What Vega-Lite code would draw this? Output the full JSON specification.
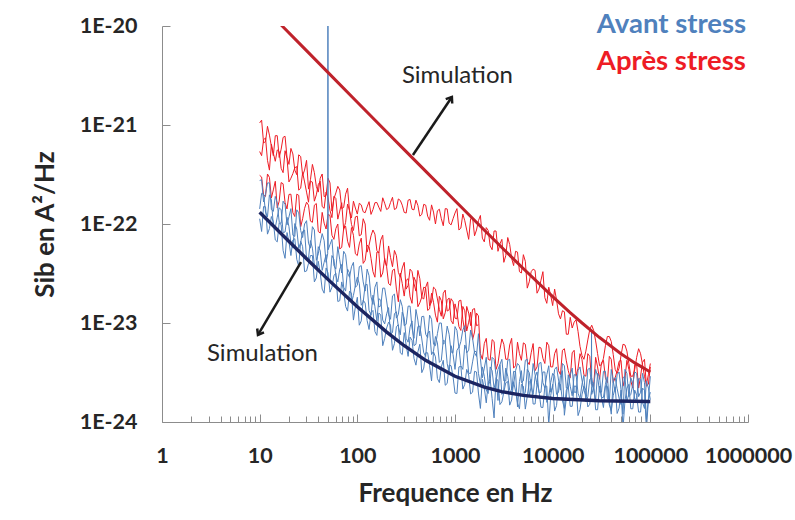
{
  "$schema": "https://vega.github.io/schema/vega-lite/v6.json",
  "width": 586,
  "height": 396,
  "autosize": {"type": "none"},
  "padding": {"left": 162, "top": 26, "right": 47, "bottom": 98},
  "background": "white",
  "config": {"view": {"stroke": null}, "font": "Lato"},
  "datasets": {
    "spec": [
      {"f":10,"ra":1.05e-21,"rb":3.1e-22,"rc":5.4e-22,"ba":2.75e-22,"bb":1.13e-22,"bc":1.42e-22},
      {"f":10.471,"ra":1.12e-21,"rb":2.98e-22,"rc":4.9e-22,"ba":2.8e-22,"bb":8.4e-23,"bc":2.04e-22},
      {"f":10.965,"ra":6.6e-22,"rb":1.96e-22,"rc":7.1e-22,"ba":1.67e-22,"bb":1.5e-22,"bc":2.0e-22},
      {"f":11.482,"ra":6.8e-22,"rb":1.9e-22,"rc":7.4e-22,"ba":2.0e-22,"bb":1.49e-22,"bc":1.32e-22},
      {"f":12.023,"ra":9.7e-22,"rb":3.2e-22,"rc":4.4e-22,"ba":2.6e-22,"bb":7.9e-23,"bc":1.18e-22},
      {"f":12.589,"ra":7.9e-22,"rb":2.96e-22,"rc":3.5e-22,"ba":2.6e-22,"bb":9.0e-23,"bc":1.97e-22},
      {"f":13.183,"ra":6.1e-22,"rb":1.83e-22,"rc":6.4e-22,"ba":1.4e-22,"bb":1.19e-22,"bc":1.75e-22},
      {"f":13.804,"ra":4.9e-22,"rb":2.21e-22,"rc":5.2e-22,"ba":1.34e-22,"bb":1.05e-22,"bc":9.7e-23},
      {"f":14.454,"ra":7.8e-22,"rb":2.7e-22,"rc":4.3e-22,"ba":1.9e-22,"bb":6.9e-23,"bc":9.2e-23},
      {"f":15.136,"ra":7.8e-22,"rb":1.45e-22,"rc":5.6e-22,"ba":1.63e-22,"bb":6.6e-23,"bc":1.17e-22},
      {"f":15.849,"ra":4.7e-22,"rb":1.7e-22,"rc":5.4e-22,"ba":1.05e-22,"bb":1.03e-22,"bc":1.46e-22},
      {"f":16.596,"ra":5.7e-22,"rb":2.62e-22,"rc":3.65e-22,"ba":1.01e-22,"bb":9.8e-23,"bc":1.39e-22},
      {"f":17.378,"ra":7.5e-22,"rb":2.55e-22,"rc":3.3e-22,"ba":1.7e-22,"bb":5.4e-23,"bc":8.2e-23},
      {"f":18.197,"ra":7.7e-22,"rb":1.65e-22,"rc":5.5e-22,"ba":1.58e-22,"bb":4.5e-23,"bc":8.3e-23},
      {"f":19.055,"ra":4.7e-22,"rb":1.42e-22,"rc":4.6e-22,"ba":9.8e-23,"bb":8.2e-23,"bc":1.17e-22},
      {"f":19.953,"ra":4.0e-22,"rb":1.99e-22,"rc":2.66e-22,"ba":1.18e-22,"bb":6.6e-23,"bc":9.4e-23},
      {"f":20.893,"ra":5.8e-22,"rb":2.0e-22,"rc":2.9e-22,"ba":1.43e-22,"bb":4.8e-23,"bc":6.4e-23},
      {"f":21.878,"ra":5.1e-22,"rb":1.3e-22,"rc":3.23e-22,"ba":7.7e-23,"bb":6.9e-23,"bc":5.7e-23},
      {"f":22.909,"ra":3.5e-22,"rb":1.19e-22,"rc":3.7e-22,"ba":7.5e-23,"bb":7.1e-23,"bc":1.01e-22},
      {"f":23.988,"ra":3.15e-22,"rb":2.0e-22,"rc":3.8e-22,"ba":1.39e-22,"bb":4.4e-23,"bc":8.9e-23},
      {"f":25.119,"ra":5.0e-22,"rb":1.95e-22,"rc":2.2e-22,"ba":1.3e-22,"bb":3.75e-23,"bc":5.7e-23},
      {"f":26.303,"ra":4.8e-22,"rb":9.4e-23,"rc":2.3e-22,"ba":8.6e-23,"bb":6.7e-23,"bc":6.5e-23},
      {"f":27.542,"ra":3.1e-22,"rb":1.13e-22,"rc":3.3e-22,"ba":7.3e-23,"bb":5.9e-23,"bc":8.4e-23},
      {"f":28.84,"ra":3.5e-22,"rb":1.44e-22,"rc":2.66e-22,"ba":1.0e-22,"bb":3.3e-23,"bc":8.7e-23},
      {"f":30.2,"ra":4.4e-22,"rb":1.66e-22,"rc":2.1e-22,"ba":1.08e-22,"bb":3.35e-23,"bc":4.4e-23},
      {"f":31.623,"ra":2.25e-22,"rb":1.55e-22,"rc":1.66e-22,"ba":6.4e-23,"bb":4.0e-23,"bc":4.5e-23},
      {"f":33.113,"ra":2.8e-22,"rb":1.07e-22,"rc":2.7e-22,"ba":5.7e-23,"bb":4.8e-23,"bc":6.8e-23},
      {"f":34.674,"ra":4.0e-22,"rb":1.04e-22,"rc":2.65e-22,"ba":9.4e-23,"bb":4.8e-23,"bc":5.7e-23},
      {"f":36.308,"ra":3.3e-22,"rb":1.55e-22,"rc":1.7e-22,"ba":8.7e-23,"bb":2.6e-23,"bc":3.9e-23},
      {"f":38.019,"ra":2.4e-22,"rb":1.61e-22,"rc":1.97e-22,"ba":4.3e-23,"bb":2.85e-23,"bc":3.5e-23},
      {"f":39.811,"ra":2.1e-22,"rb":8.4e-23,"rc":2.5e-22,"ba":5.0e-23,"bb":4.2e-23,"bc":5.9e-23},
      {"f":41.687,"ra":2.9e-22,"rb":8.1e-23,"rc":2.7e-22,"ba":6.4e-23,"bb":3.2e-23,"bc":5.4e-23},
      {"f":43.652,"ra":3.2e-22,"rb":1.31e-22,"rc":1.5e-22,"ba":8.0e-23,"bb":2.2e-23,"bc":3.4e-23},
      {"f":45.709,"ra":1.89e-22,"rb":1.02e-22,"rc":1.44e-22,"ba":6.8e-23,"bb":2.0e-23,"bc":4.1e-23},
      {"f":47.863,"ra":1.95e-22,"rb":8.9e-23,"rc":2.1e-22,"ba":4.1e-23,"bb":3.6e-23,"bc":4.9e-23},
      {"f":49.7,"ba":5.0e-23},
      {"f":50,"ba":1.3e-20},
      {"f":50.119,"ra":2.9e-22,"rb":1.25e-22,"rc":1.84e-22,"bb":3.2e-23,"bc":2.65e-23},
      {"f":50.3,"ba":5.5e-23},
      {"f":52.481,"ra":2.6e-22,"rb":1.22e-22,"rc":1.37e-22,"ba":6.2e-23,"bb":2.05e-23,"bc":2.7e-23},
      {"f":54.954,"ra":1.35e-22,"rb":7.7e-23,"rc":1.16e-22,"ba":7.0e-23,"bb":2.3e-23,"bc":4.8e-23},
      {"f":57.544,"ra":1.8e-22,"rb":7.0e-23,"rc":1.9e-22,"ba":3.8e-23,"bb":3.0e-23,"bc":4.4e-23},
      {"f":60.256,"ra":2.06e-22,"rb":9.0e-23,"rc":1.81e-22,"ba":3.5e-23,"bb":3.2e-23,"bc":3.0e-23},
      {"f":63.096,"ra":2.4e-22,"rb":1.0e-22,"rc":1.12e-22,"ba":5.9e-23,"bb":1.65e-23,"bc":2.6e-23},
      {"f":66.069,"ra":2.2e-22,"rb":5.6e-23,"rc":1.35e-22,"ba":4.35e-23,"bb":1.68e-23,"bc":3.5e-23},
      {"f":69.183,"ra":1.43e-22,"rb":5.8e-23,"rc":1.64e-22,"ba":3.2e-23,"bb":2.6e-23,"bc":3.9e-23},
      {"f":72.444,"ra":1.47e-22,"rb":9.0e-23,"rc":8.8e-23,"ba":5.3e-23,"bb":2.1e-23,"bc":2.3e-23},
      {"f":75.858,"ra":2.0e-22,"rb":9.5e-23,"rc":1.04e-22,"ba":4.9e-23,"bb":1.47e-23,"bc":2.1e-23},
      {"f":79.433,"ra":2.3e-22,"rb":6.7e-23,"rc":1.59e-22,"ba":3.2e-23,"bb":1.32e-23,"bc":3.5e-23},
      {"f":83.176,"ra":1.35e-22,"rb":5.8e-23,"rc":1.37e-22,"ba":2.9e-23,"bb":2.1e-23,"bc":3.2e-23},
      {"f":87.096,"ra":1.15e-22,"rb":9.2e-23,"rc":9.9e-23,"ba":3.7e-23,"bb":2.0e-23,"bc":1.6e-23},
      {"f":91.201,"ra":1.7e-22,"rb":7.7e-23,"rc":8.6e-23,"ba":4.1e-23,"bb":1.07e-23,"bc":1.9e-23},
      {"f":95.499,"ra":1.45e-22,"rb":5.0e-23,"rc":1.18e-22,"ba":2.3e-23,"bb":1.46e-23,"bc":2.4e-23},
      {"f":100,"ra":1.26e-22,"rb":4.8e-23,"rc":1.2e-22,"ba":2.4e-23,"bb":1.82e-23,"bc":2.9e-23},
      {"f":104.71,"ra":1.62e-22,"rb":6.3e-23,"rc":7.6e-23,"ba":3.7e-23,"bb":9.5e-24,"bc":2.5e-23},
      {"f":109.65,"ra":1.56e-22,"rb":7.2e-23,"rc":7.8e-23,"ba":3.8e-23,"bb":1.05e-23,"bc":1.51e-23},
      {"f":114.82,"ra":1.33e-22,"rb":4.0e-23,"rc":1.13e-22,"ba":2.6e-23,"bb":1.7e-23,"bc":1.63e-23},
      {"f":120.23,"ra":1.3e-22,"rb":4.3e-23,"rc":1.0e-22,"ba":2.1e-23,"bb":1.59e-23,"bc":2.4e-23},
      {"f":125.89,"ra":1.49e-22,"rb":6.1e-23,"rc":5.2e-23,"ba":3.5e-23,"bb":1.06e-23,"bc":2.46e-23},
      {"f":131.83,"ra":1.68e-22,"rb":5.9e-23,"rc":6.1e-23,"ba":3.0e-23,"bb":8.6e-24,"bc":1.34e-23},
      {"f":138.04,"ra":1.25e-22,"rb":4.5e-23,"rc":7.6e-23,"ba":1.84e-23,"bb":1.27e-23,"bc":1.2e-23},
      {"f":144.54,"ra":1.4e-22,"rb":3.3e-23,"rc":8.7e-23,"ba":1.54e-23,"bb":1.34e-23,"bc":1.91e-23},
      {"f":151.36,"ra":1.64e-22,"rb":2.9e-23,"rc":7.9e-23,"ba":2.3e-23,"bb":8.2e-24,"bc":1.46e-23},
      {"f":158.49,"ra":1.65e-22,"rb":5.2e-23,"rc":5.4e-23,"ba":2.6e-23,"bb":7.5e-24,"bc":1.05e-23},
      {"f":165.96,"ra":1.48e-22,"rb":5.2e-23,"rc":5.1e-23,"ba":1.45e-23,"bb":1.26e-23,"bc":1.76e-23},
      {"f":173.78,"ra":1.34e-22,"rb":2.9e-23,"rc":6.9e-23,"ba":1.49e-23,"bb":1.21e-23,"bc":1.7e-23},
      {"f":181.97,"ra":1.84e-22,"rb":3.2e-23,"rc":7.7e-23,"ba":2.25e-23,"bb":5.9e-24,"bc":1.07e-23},
      {"f":190.55,"ra":1.62e-22,"rb":4.5e-23,"rc":4.2e-23,"ba":2.25e-23,"bb":7.0e-24,"bc":9.8e-24},
      {"f":199.53,"ra":1.4e-22,"rb":3.7e-23,"rc":3.75e-23,"ba":1.67e-23,"bb":8.9e-24,"bc":1.24e-23},
      {"f":208.93,"ra":1.44e-22,"rb":2.5e-23,"rc":6.0e-23,"ba":1.21e-23,"bb":1.02e-23,"bc":1.43e-23},
      {"f":218.78,"ra":1.65e-22,"rb":2.4e-23,"rc":4.6e-23,"ba":1.09e-23,"bb":9.5e-24,"bc":7.7e-24},
      {"f":229.09,"ra":1.86e-22,"rb":3.4e-23,"rc":3.7e-23,"ba":1.88e-23,"bb":5.3e-24,"bc":8.0e-24},
      {"f":239.88,"ra":1.4e-22,"rb":3.5e-23,"rc":5.4e-23,"ba":1.96e-23,"bb":6.2e-24,"bc":1.24e-23},
      {"f":251.19,"ra":1.44e-22,"rb":2.2e-23,"rc":4.8e-23,"ba":1.12e-23,"bb":9.2e-24,"bc":1.3e-23},
      {"f":263.03,"ra":1.79e-22,"rb":1.64e-23,"rc":3.25e-23,"ba":1.22e-23,"bb":9.6e-24,"bc":9.2e-24},
      {"f":275.42,"ra":1.73e-22,"rb":3.2e-23,"rc":2.9e-23,"ba":1.72e-23,"bb":5.0e-24,"bc":7.6e-24},
      {"f":288.4,"ra":1.55e-22,"rb":2.5e-23,"rc":3.6e-23,"ba":1.47e-23,"bb":4.8e-24,"bc":1.29e-23},
      {"f":302,"ra":1.31e-22,"rb":1.87e-23,"rc":4.1e-23,"ba":9.4e-24,"bb":8.0e-24,"bc":1.12e-23},
      {"f":316.23,"ra":1.29e-22,"rb":2.7e-23,"rc":2.2e-23,"ba":9.7e-24,"bb":6.0e-24,"bc":7.0e-24},
      {"f":331.13,"ra":1.74e-22,"rb":2.8e-23,"rc":2.4e-23,"ba":1.48e-23,"bb":4.6e-24,"bc":6.4e-24},
      {"f":346.74,"ra":1.77e-22,"rb":1.84e-23,"rc":3.5e-23,"ba":1.48e-23,"bb":7.2e-24,"bc":9.1e-24},
      {"f":363.08,"ra":1.41e-22,"rb":1.58e-23,"rc":3.3e-23,"ba":8.9e-24,"bb":6.7e-24,"bc":1.05e-23},
      {"f":380.19,"ra":1.39e-22,"rb":2.9e-23,"rc":2.5e-23,"ba":7.0e-24,"bb":4.4e-24,"bc":5.9e-24},
      {"f":398.11,"ra":1.74e-22,"rb":2.6e-23,"rc":2.1e-23,"ba":1.37e-23,"bb":3.75e-24,"bc":6.1e-24},
      {"f":416.87,"ra":1.54e-22,"rb":1.46e-23,"rc":3.4e-23,"ba":1.07e-23,"bb":5.1e-24,"bc":9.2e-24},
      {"f":436.52,"ra":1.2e-22,"rb":1.6e-23,"rc":2.8e-23,"ba":7.4e-24,"bb":6.1e-24,"bc":9.3e-24},
      {"f":457.09,"ra":1.25e-22,"rb":1.83e-23,"rc":1.81e-23,"ba":1.16e-23,"bb":3.15e-24,"bc":6.9e-24},
      {"f":478.63,"ra":1.58e-22,"rb":2.3e-23,"rc":1.75e-23,"ba":1.17e-23,"bb":3.5e-24,"bc":5.0e-24},
      {"f":501.19,"ra":1.55e-22,"rb":2.25e-23,"rc":2.3e-23,"ba":7.7e-24,"bb":5.0e-24,"bc":4.6e-24},
      {"f":524.81,"ra":1.2e-22,"rb":1.34e-23,"rc":2.6e-23,"ba":7.1e-24,"bb":5.0e-24,"bc":7.9e-24},
      {"f":549.54,"ra":1.09e-22,"rb":1.39e-23,"rc":1.49e-23,"ba":1.2e-23,"bb":3.7e-24,"bc":8.3e-24},
      {"f":575.44,"ra":1.56e-22,"rb":2.0e-23,"rc":1.63e-23,"ba":1.09e-23,"bb":2.6e-24,"bc":4.8e-24},
      {"f":602.56,"ra":1.32e-22,"rb":1.62e-23,"rc":2.3e-23,"ba":6.1e-24,"bb":5.1e-24,"bc":5.2e-24},
      {"f":630.96,"ra":1.0e-22,"rb":1.2e-23,"rc":2.2e-23,"ba":5.9e-24,"bb":4.55e-24,"bc":7.3e-24},
      {"f":660.69,"ra":1.36e-22,"rb":1.02e-23,"rc":1.75e-23,"ba":7.8e-24,"bb":2.75e-24,"bc":6.3e-24},
      {"f":691.83,"ra":1.41e-22,"rb":1.86e-23,"rc":1.37e-23,"ba":1.0e-23,"bb":2.5e-24,"bc":4.0e-24},
      {"f":724.44,"ra":1.13e-22,"rb":1.68e-23,"rc":1.17e-23,"ba":1.0e-23,"bb":3.6e-24,"bc":4.2e-24},
      {"f":758.58,"ra":9.6e-23,"rb":1.1e-23,"rc":2.0e-23,"ba":6.1e-24,"bb":4.2e-24,"bc":6.7e-24},
      {"f":794.33,"ra":1.43e-22,"rb":1.27e-23,"rc":2.15e-23,"ba":6.4e-24,"bb":2.35e-24,"bc":6.5e-24},
      {"f":831.76,"ra":1.42e-22,"rb":1.7e-23,"rc":1.32e-23,"ba":9.3e-24,"bb":2.45e-24,"bc":3.9e-24},
      {"f":870.96,"ra":1.02e-22,"rb":1.79e-23,"rc":1.36e-23,"ba":7.7e-24,"bb":3.75e-24,"bc":3.1e-24},
      {"f":912.01,"ra":9.8e-23,"rb":1.06e-23,"rc":1.76e-23,"ba":5.1e-24,"bb":3.7e-24,"bc":5.9e-24},
      {"f":954.99,"ra":1.13e-22,"rb":9.8e-24,"rc":1.64e-23,"ba":5.0e-24,"bb":2.86e-24,"bc":4.8e-24},
      {"f":1000,"ra":1.29e-22,"rb":1.56e-23,"rc":1.12e-23,"ba":9.2e-24,"bb":1.96e-24,"bc":3.4e-24},
      {"f":1047.1,"ra":1.43e-22,"rb":1.29e-23,"rc":1.1e-23,"ba":8.4e-24,"bb":1.94e-24,"bc":5.3e-24},
      {"f":1096.5,"ra":8.7e-23,"rb":9.2e-24,"rc":1.67e-23,"ba":5.6e-24,"bb":3.6e-24,"bc":5.7e-24},
      {"f":1148.2,"ra":9.1e-23,"rb":8.4e-24,"rc":1.7e-23,"ba":6.5e-24,"bb":3.65e-24,"bc":3.7e-24},
      {"f":1202.3,"ra":1.26e-22,"rb":1.47e-23,"rc":1.09e-23,"ba":8.5e-24,"bb":2.15e-24,"bc":3.4e-24},
      {"f":1258.9,"ra":1.08e-22,"rb":1.33e-23,"rc":8.1e-24,"ba":9.4e-24,"bb":2.4e-24,"bc":6.0e-24},
      {"f":1318.3,"ra":8.7e-23,"rb":8.3e-24,"rc":1.47e-23,"ba":5.0e-24,"bb":3.4e-24,"bc":5.25e-24},
      {"f":1380.4,"ra":7.0e-23,"rb":1.02e-23,"rc":1.26e-23,"ba":5.3e-24,"bb":2.98e-24,"bc":3.1e-24},
      {"f":1445.4,"ra":1.13e-22,"rb":1.29e-23,"rc":9.4e-24,"ba":8.5e-24,"bb":1.92e-24,"bc":3.1e-24},
      {"f":1513.6,"ra":1.16e-22,"rb":6.8e-24,"rc":1.37e-23,"ba":7.0e-24,"bb":2.0e-24,"bc":4.05e-24},
      {"f":1584.9,"ra":7.6e-23,"rb":8.1e-24,"rc":1.4e-23,"ba":5.0e-24,"bb":3.25e-24,"bc":5.2e-24},
      {"f":1659.6,"ra":8.7e-23,"rb":1.26e-23,"rc":9.4e-24,"ba":4.6e-24,"bb":3.2e-24,"bc":5.1e-24},
      {"f":1737.8,"ra":1.08e-22,"rb":1.18e-23,"rc":9.6e-24,"ba":7.8e-24,"bb":1.96e-24,"bc":3.1e-24},
      {"f":1819.7,"ra":1.22e-22,"rb":4.9e-24,"ba":4.4e-24,"bb":1.37e-24,"bc":2.4e-24},
      {"f":1905.5,"ra":7.2e-23,"rb":4.3e-24,"ba":2.8e-24,"bb":2.7e-24,"bc":3.6e-24},
      {"f":1995.3,"ra":6.6e-23,"rb":6.2e-24,"ba":3.5e-24,"bb":2.2e-24,"bc":2.9e-24},
      {"f":2089.3,"ra":9.2e-23,"rb":7.0e-24,"ba":4.5e-24,"bb":1.56e-24,"bc":2.1e-24},
      {"f":2187.8,"ra":8.6e-23,"rb":4.3e-24,"ba":2.4e-24,"bb":2.5e-24,"bc":1.94e-24},
      {"f":2290.9,"ra":6.0e-23,"rb":4.2e-24,"ba":2.55e-24,"bb":2.7e-24,"bc":3.6e-24},
      {"f":2398.8,"ra":5.5e-23,"rb":6.8e-24,"ba":4.5e-24,"bb":1.72e-24,"bc":3.3e-24},
      {"f":2511.9,"ra":8.5e-23,"rb":6.5e-24,"ba":4.3e-24,"bb":1.1e-24,"bc":2.2e-24},
      {"f":2630.3,"ra":8.5e-23,"rb":3.4e-24,"ba":3.0e-24,"bb":2.8e-24,"bc":2.6e-24},
      {"f":2754.2,"ra":5.3e-23,"rb":3.9e-24,"ba":1.65e-24,"bb":2.6e-24,"bc":3.4e-24},
      {"f":2884,"ra":6.3e-23,"rb":5.4e-24,"ba":3.8e-24,"bb":1.5e-24,"bc":3.8e-24},
      {"f":3020,"ra":7.0e-23,"rb":6.9e-24,"ba":4.3e-24,"bb":1.6e-24,"bc":1.9e-24},
      {"f":3162.3,"ra":4.1e-23,"rb":6.1e-24,"ba":2.6e-24,"bb":2.0e-24,"bc":2.15e-24},
      {"f":3311.3,"ra":4.8e-23,"rb":4.3e-24,"ba":2.6e-24,"bb":2.5e-24,"bc":3.5e-24},
      {"f":3467.4,"ra":7.3e-23,"rb":4.3e-24,"ba":4.2e-24,"bb":2.56e-24,"bc":2.9e-24},
      {"f":3630.8,"ra":6.2e-23,"rb":6.0e-24,"ba":4.3e-24,"bb":1.48e-24,"bc":2.1e-24},
      {"f":3801.9,"ra":4.5e-23,"rb":7.0e-24,"ba":2.1e-24,"bb":1.67e-24,"bc":1.97e-24},
      {"f":3981.1,"ra":3.8e-23,"rb":3.5e-24,"ba":2.4e-24,"bb":2.55e-24,"bc":3.25e-24},
      {"f":4168.7,"ra":5.3e-23,"rb":3.7e-24,"ba":3.3e-24,"bb":2.05e-24,"bc":3.2e-24},
      {"f":4365.2,"ra":5.2e-23,"rb":6.4e-24,"ba":3.9e-24,"bb":1.56e-24,"bc":1.42e-24},
      {"f":4570.9,"ra":3.3e-23,"rb":4.9e-24,"ba":3.7e-24,"bb":1.36e-24,"bc":2.57e-24},
      {"f":4786.3,"ra":3.2e-23,"rb":4.2e-24,"ba":2.5e-24,"bb":2.4e-24,"bc":3.3e-24},
      {"f":5011.9,"ra":4.9e-23,"rb":6.3e-24,"ba":2.6e-24,"bb":2.3e-24,"bc":1.79e-24},
      {"f":5248.1,"ra":4.2e-23,"rb":6.1e-24,"ba":4.2e-24,"bb":1.35e-24,"bc":2.0e-24},
      {"f":5495.4,"ra":2.25e-23,"rb":4.1e-24,"ba":4.3e-24,"bb":1.82e-24,"bc":3.4e-24},
      {"f":5754.4,"ra":2.6e-23,"rb":3.8e-24,"ba":1.8e-24,"bb":2.5e-24,"bc":3.15e-24},
      {"f":6025.6,"ra":3.3e-23,"rb":5.0e-24,"ba":2.3e-24,"bb":2.7e-24,"bc":2.26e-24},
      {"f":6309.6,"ra":3.5e-23,"rb":6.2e-24,"ba":3.9e-24,"bb":1.52e-24,"bc":1.9e-24},
      {"f":6606.9,"ra":3.4e-23,"rb":3.3e-24,"ba":3.0e-24,"bb":1.52e-24,"bc":2.86e-24},
      {"f":6918.3,"ra":2.0e-23,"rb":3.6e-24,"ba":2.4e-24,"bb":2.46e-24,"bc":3.2e-24},
      {"f":7244.4,"ra":2.2e-23,"rb":5.7e-24,"ba":3.9e-24,"bb":2.07e-24,"bc":1.98e-24},
      {"f":7585.8,"ra":2.7e-23,"rb":5.6e-24,"ba":4.0e-24,"bb":1.41e-24,"bc":2.0e-24},
      {"f":7943.3,"ra":3.3e-23,"rb":4.4e-24,"ba":2.5e-24,"bb":1.4e-24,"bc":3.2e-24},
      {"f":8317.6,"ra":1.8e-23,"rb":3.9e-24,"ba":2.2e-24,"bb":2.3e-24,"bc":3.2e-24},
      {"f":8709.6,"ra":1.58e-23,"rb":6.4e-24,"ba":3.0e-24,"bb":2.3e-24,"bc":1.58e-24},
      {"f":9120.1,"ra":2.3e-23,"rb":5.9e-24,"ba":3.7e-24,"bb":9.3e-25,"bc":1.8e-24},
      {"f":9549.9,"ra":1.9e-23,"rb":3.6e-24,"ba":2.0e-24,"bb":1.85e-24,"bc":2.5e-24},
      {"f":10000,"ra":1.5e-23,"rb":3.6e-24,"ba":2.25e-24,"bb":2.4e-24,"bc":3.1e-24},
      {"f":10471,"ra":2.2e-23,"rb":4.9e-24,"ba":3.4e-24,"bb":1.29e-24,"bc":2.9e-24},
      {"f":10965,"ra":1.7e-23,"rb":5.5e-24,"ba":3.6e-24,"bb":1.47e-24,"bc":1.9e-24},
      {"f":11482,"ra":1.24e-23,"rb":3.3e-24,"ba":2.65e-24,"bb":2.5e-24,"bc":2.0e-24},
      {"f":12023,"ra":1.1e-23,"rb":3.0e-24,"ba":2.1e-24,"bb":2.4e-24,"bc":2.95e-24},
      {"f":12589,"ra":1.33e-23,"rb":5.3e-24,"ba":3.9e-24,"bb":1.64e-24,"bc":3.3e-24},
      {"f":13183,"ra":1.3e-23,"rb":5.5e-24,"ba":3.7e-24,"bb":1.37e-24,"bc":1.17e-24},
      {"f":13804,"ra":7.7e-24,"rb":4.15e-24,"ba":2.2e-24,"bb":2.1e-24,"bc":1.75e-24},
      {"f":14454,"ra":7.7e-24,"rb":3.3e-24,"ba":2.2e-24,"bb":2.26e-24,"bc":3.0e-24},
      {"f":15136,"ra":1.14e-23,"rb":2.8e-24,"ba":3.0e-24,"bb":1.44e-24,"bc":2.3e-24},
      {"f":15849,"ra":8.9e-24,"rb":5.0e-24,"ba":3.5e-24,"bb":1.44e-24,"bc":1.84e-24},
      {"f":16596,"ra":1.02e-23,"rb":5.3e-24,"ba":2.0e-24,"bb":2.3e-24,"bc":3.0e-24},
      {"f":17378,"ra":1.08e-23,"rb":2.9e-24,"ba":2.0e-24,"bb":2.3e-24,"bc":3.0e-24},
      {"f":18197,"ra":8.2e-24,"rb":3.5e-24,"ba":3.3e-24,"bb":1.16e-24,"bc":1.95e-24},
      {"f":19055,"ra":5.8e-24,"rb":4.9e-24,"ba":3.6e-24,"bb":1.34e-24,"bc":1.72e-24},
      {"f":19953,"ra":4.7e-24,"rb":4.3e-24,"ba":2.65e-24,"bb":1.88e-24,"bc":2.4e-24},
      {"f":20893,"ra":4.3e-24,"rb":3.0e-24,"ba":2.1e-24,"bb":2.3e-24,"bc":2.96e-24},
      {"f":21878,"ra":5.2e-24,"rb":2.9e-24,"ba":1.84e-24,"bb":2.1e-24,"bc":1.6e-24},
      {"f":22909,"ra":6.75e-24,"rb":4.9e-24,"ba":3.4e-24,"bb":1.42e-24,"bc":1.8e-24},
      {"f":23988,"ra":8.6e-24,"rb":4.6e-24,"ba":3.5e-24,"bb":1.51e-24,"bc":2.7e-24},
      {"f":24900,"ba":2.4e-24},
      {"f":25000,"ba":8.5e-24},
      {"f":25080,"ba":2.3e-24},
      {"f":25119,"ra":9.5e-24,"rb":2.45e-24,"ba":1.9e-24,"bb":2.2e-24,"bc":2.8e-24},
      {"f":26303,"ra":8.4e-24,"rb":2.3e-24,"ba":2.25e-24,"bb":2.5e-24,"bc":2.1e-24},
      {"f":27542,"ra":6.6e-24,"rb":4.5e-24,"ba":3.4e-24,"bb":1.33e-24,"bc":1.67e-24},
      {"f":28840,"ra":4.9e-24,"rb":3.6e-24,"ba":2.9e-24,"bb":1.33e-24,"bc":3.1e-24},
      {"f":30200,"ra":3.7e-24,"rb":2.7e-24,"ba":2.0e-24,"bb":2.3e-24,"bc":2.9e-24},
      {"f":31623,"ra":3.8e-24,"rb":4.0e-24,"ba":2.0e-24,"bb":1.76e-24,"bc":1.77e-24},
      {"f":33113,"ra":4.4e-24,"rb":4.2e-24,"ba":3.25e-24,"bb":1.4e-24,"bc":1.77e-24},
      {"f":34674,"ra":5.9e-24,"rb":2.8e-24,"ba":3.25e-24,"bb":2.3e-24,"bc":2.4e-24},
      {"f":36308,"ra":7.3e-24,"rb":2.5e-24,"ba":1.75e-24,"bb":2.3e-24,"bc":2.86e-24},
      {"f":38019,"ra":7.3e-24,"rb":4.6e-24,"ba":1.6e-24,"bb":1.49e-24,"bc":1.64e-24},
      {"f":39811,"ra":6.5e-24,"rb":4.3e-24,"ba":3.4e-24,"bb":1.31e-24,"bc":1.2e-24},
      {"f":41687,"ra":4.8e-24,"rb":2.5e-24,"ba":2.6e-24,"bb":1.84e-24,"bc":2.7e-24},
      {"f":43652,"ra":3.4e-24,"rb":2.8e-24,"ba":2.0e-24,"bb":2.26e-24,"bc":2.8e-24},
      {"f":45709,"ra":3.1e-24,"rb":3.3e-24,"ba":3.0e-24,"bb":1.22e-24,"bc":2.17e-24},
      {"f":47863,"ra":3.5e-24,"rb":4.1e-24,"ba":3.2e-24,"bb":1.38e-24,"bc":1.74e-24},
      {"f":50119,"ra":4.7e-24,"rb":4.2e-24,"ba":2.1e-24,"bb":2.1e-24,"bc":1.5e-24},
      {"f":52481,"ra":6.1e-24,"rb":2.3e-24,"ba":1.2e-24,"bb":8.6e-25,"bc":2.8e-24},
      {"f":54954,"ra":6.0e-24,"rb":2.75e-24,"ba":3.4e-24,"bb":1.63e-24,"bc":2.9e-24},
      {"f":57544,"ra":5.2e-24,"rb":4.2e-24,"ba":3.1e-24,"bb":2.2e-24,"bc":1.6e-24},
      {"f":60256,"ra":3.9e-24,"rb":3.4e-24,"ba":1.8e-24,"bb":2.4e-24,"bc":1.93e-24},
      {"f":63096,"ra":2.9e-24,"rb":2.6e-24,"ba":1.9e-24,"bb":1.36e-24,"bc":2.8e-24},
      {"f":66069,"ra":2.9e-24,"rb":2.2e-24,"ba":2.4e-24,"bb":1.36e-24,"bc":2.45e-24},
      {"f":69183,"ra":3.4e-24,"rb":3.8e-24,"ba":3.2e-24,"bb":2.1e-24,"bc":1.7e-24},
      {"f":72444,"ra":4.5e-24,"rb":3.8e-24,"ba":3.1e-24,"bb":1.86e-24,"bc":1.7e-24},
      {"f":75858,"ra":5.5e-24,"rb":2.2e-24,"ba":1.8e-24,"bb":1.26e-24,"bc":2.75e-24},
      {"f":79433,"ra":4.9e-24,"rb":2.9e-24,"ba":2.0e-24,"bb":1.26e-24,"bc":2.7e-24},
      {"f":83176,"ra":3.8e-24,"rb":4.0e-24,"ba":3.1e-24,"bb":2.2e-24,"bc":1.58e-24},
      {"f":87096,"ra":2.9e-24,"rb":4.3e-24,"ba":2.5e-24,"bb":2.1e-24,"bc":1.37e-24},
      {"f":91201,"ra":2.4e-24,"rb":2.3e-24,"ba":1.08e-24,"bb":8.3e-25,"bc":2.6e-24},
      {"f":95499,"ra":3.0e-24,"rb":2.4e-24,"ba":1.7e-24,"bb":1.66e-24,"bc":2.2e-24},
      {"f":100000,"ra":3.9e-24,"rb":3.6e-24,"ba":2.9e-24,"bb":2.0e-24,"bc":1.68e-24}
    ],
    "sim": [
      {"s":"r","f":10,"v":1.7e-20},
      {"s":"r","f":17,"v":1.0e-20},
      {"s":"r","f":30,"v":5.67e-21},
      {"s":"r","f":50,"v":3.4e-21},
      {"s":"r","f":100,"v":1.7e-21},
      {"s":"r","f":200,"v":8.5e-22},
      {"s":"r","f":300,"v":5.68e-22},
      {"s":"r","f":500,"v":3.42e-22},
      {"s":"r","f":1000,"v":1.715e-22},
      {"s":"r","f":2000,"v":8.65e-23},
      {"s":"r","f":3000,"v":5.82e-23},
      {"s":"r","f":5000,"v":3.55e-23},
      {"s":"r","f":10000,"v":1.85e-23},
      {"s":"r","f":15000,"v":1.28e-23},
      {"s":"r","f":20000,"v":1.0e-23},
      {"s":"r","f":30000,"v":7.17e-24},
      {"s":"r","f":50000,"v":4.9e-24},
      {"s":"r","f":70000,"v":3.93e-24},
      {"s":"r","f":100000,"v":3.2e-24},
      {"s":"b","f":10,"v":1.316e-22},
      {"s":"b","f":20,"v":6.66e-23},
      {"s":"b","f":30,"v":4.49e-23},
      {"s":"b","f":50,"v":2.76e-23},
      {"s":"b","f":100,"v":1.46e-23},
      {"s":"b","f":200,"v":8.1e-24},
      {"s":"b","f":300,"v":5.93e-24},
      {"s":"b","f":500,"v":4.2e-24},
      {"s":"b","f":1000,"v":2.9e-24},
      {"s":"b","f":2000,"v":2.25e-24},
      {"s":"b","f":3000,"v":2.03e-24},
      {"s":"b","f":5000,"v":1.86e-24},
      {"s":"b","f":10000,"v":1.73e-24},
      {"s":"b","f":30000,"v":1.64e-24},
      {"s":"b","f":100000,"v":1.61e-24}
    ],
    "arrows": [
      {"id":"u","f":371,"v":4.98e-22,"f2":929,"v2":1.92e-21},
      {"id":"d","f":26.5,"v":4.13e-23,"f2":9.61,"v2":7.57e-24}
    ],
    "notes": [
      {"f":1058,"v":3.16e-21,"t":"Simulation"},
      {"f":10.68,"v":4.86e-24,"t":"Simulation"}
    ],
    "legend": [
      {"f":28330,"v":1.02e-20,"t":"Avant stress"},
      {"f":28330,"v":4.33e-21,"t":"Après stress"}
    ]
  },
  "layer": [
    {
      "data": {"name": "spec"},
      "transform": [
        {"fold": ["ra","rb","rc"], "as": ["k","v"]},
        {"filter": "isValid(datum.v) && datum.v > 0"}
      ],
      "mark": {"type": "line", "color": "#EE1C25", "strokeWidth": 1, "clip": true},
      "encoding": {
        "x": {
          "field": "f", "type": "quantitative",
          "scale": {"type": "log", "domain": [1, 1000000], "nice": false},
          "axis": {
            "title": "Frequence en Hz",
            "values": [1,2,3,4,5,6,7,8,9,10,20,30,40,50,60,70,80,90,100,200,300,400,500,600,700,800,900,1000,2000,3000,4000,5000,6000,7000,8000,9000,10000,20000,30000,40000,50000,60000,70000,80000,90000,100000,200000,300000,400000,500000,600000,700000,800000,900000,1000000],
            "labelExpr": "indexof([1,10,100,1000,10000,100000,1000000], datum.value) >= 0 ? format(datum.value, 'd') : ''",
            "tickSize": {"condition": {"test": "indexof([1,10,100,1000,10000,100000,1000000], datum.value) >= 0", "value": -8}, "value": -6},
            "labelPadding": 31,
            "labelFont": "Lato", "labelFontSize": 21.5, "labelFontWeight": "bold", "labelColor": "#262626",
            "labelOverlap": false, "labelFlush": false, "labelBound": false,
            "titleFont": "Lato", "titleFontSize": 26, "titleFontWeight": "bold", "titleColor": "#262626", "titlePadding": 12,
            "domainColor": "#8c8c8c", "tickColor": "#8c8c8c", "grid": false
          }
        },
        "y": {
          "field": "v", "type": "quantitative",
          "scale": {"type": "log", "domain": [1e-24, 1e-20], "nice": false},
          "axis": {
            "title": "Sib en A²/Hz",
            "values": [1e-24, 1e-23, 1e-22, 1e-21, 1e-20],
            "labelExpr": "'1E' + round(log(datum.value)/LN10)",
            "tickSize": -8,
            "labelPadding": 33,
            "labelFont": "Lato", "labelFontSize": 21.5, "labelFontWeight": "bold", "labelColor": "#262626",
            "labelOverlap": false, "labelFlush": false, "labelBound": false,
            "titleFont": "Lato", "titleFontSize": 26, "titleFontWeight": "bold", "titleColor": "#262626", "titlePadding": 21,
            "domainColor": "#8c8c8c", "tickColor": "#8c8c8c", "grid": false
          }
        },
        "detail": {"field": "k"}
      }
    },
    {
      "data": {"name": "spec"},
      "transform": [
        {"fold": ["ba","bb","bc"], "as": ["k","v"]},
        {"filter": "isValid(datum.v) && datum.v > 0"}
      ],
      "mark": {"type": "line", "color": "#4F81BD", "strokeWidth": 1, "clip": true},
      "encoding": {
        "x": {"field": "f", "type": "quantitative"},
        "y": {"field": "v", "type": "quantitative"},
        "detail": {"field": "k"}
      }
    },
    {
      "data": {"name": "sim"},
      "transform": [{"filter": "datum.s == 'r'"}],
      "mark": {"type": "line", "strokeWidth": 3, "clip": true, "color": "#BF222B"},
      "encoding": {
        "x": {"field": "f", "type": "quantitative"},
        "y": {"field": "v", "type": "quantitative"}
      }
    },
    {
      "data": {"name": "sim"},
      "transform": [{"filter": "datum.s == 'b'"}],
      "mark": {"type": "line", "strokeWidth": 3.4, "clip": true, "color": "#1C2561"},
      "encoding": {
        "x": {"field": "f", "type": "quantitative"},
        "y": {"field": "v", "type": "quantitative"}
      }
    },
    {
      "data": {"name": "arrows"},
      "mark": {"type": "rule", "color": "#1a1a1a", "strokeWidth": 2.5},
      "encoding": {
        "x": {"field": "f", "type": "quantitative"},
        "y": {"field": "v", "type": "quantitative"},
        "x2": {"field": "f2"},
        "y2": {"field": "v2"}
      }
    },
    {
      "data": {"name": "arrows"},
      "transform": [{"filter": "datum.id == 'u'"}],
      "mark": {"type": "point", "shape": "M -0.6 0.8 L 0 0 L 0.6 0.8", "filled": false, "color": "#1a1a1a", "strokeWidth": 2.5, "size": 170, "angle": 34, "opacity": 1},
      "encoding": {
        "x": {"field": "f2", "type": "quantitative"},
        "y": {"field": "v2", "type": "quantitative"}
      }
    },
    {
      "data": {"name": "arrows"},
      "transform": [{"filter": "datum.id == 'd'"}],
      "mark": {"type": "point", "shape": "M -0.6 0.8 L 0 0 L 0.6 0.8", "filled": false, "color": "#1a1a1a", "strokeWidth": 2.5, "size": 170, "angle": 210, "opacity": 1},
      "encoding": {
        "x": {"field": "f2", "type": "quantitative"},
        "y": {"field": "v2", "type": "quantitative"}
      }
    },
    {
      "data": {"name": "notes"},
      "mark": {"type": "text", "font": "Lato", "fontSize": 24, "color": "#262626", "align": "center", "baseline": "middle"},
      "encoding": {
        "x": {"field": "f", "type": "quantitative"},
        "y": {"field": "v", "type": "quantitative"},
        "text": {"field": "t"}
      }
    },
    {
      "data": {"name": "legend"},
      "transform": [{"filter": "datum.t == 'Avant stress'"}],
      "mark": {"type": "text", "font": "Lato", "fontSize": 27.5, "fontWeight": "bold", "align": "left", "baseline": "middle", "color": "#4F81BD"},
      "encoding": {
        "x": {"field": "f", "type": "quantitative"},
        "y": {"field": "v", "type": "quantitative"},
        "text": {"field": "t"}
      }
    },
    {
      "data": {"name": "legend"},
      "transform": [{"filter": "datum.t == 'Après stress'"}],
      "mark": {"type": "text", "font": "Lato", "fontSize": 27.5, "fontWeight": "bold", "align": "left", "baseline": "middle", "color": "#EE1C25"},
      "encoding": {
        "x": {"field": "f", "type": "quantitative"},
        "y": {"field": "v", "type": "quantitative"},
        "text": {"field": "t"}
      }
    }
  ]
}
